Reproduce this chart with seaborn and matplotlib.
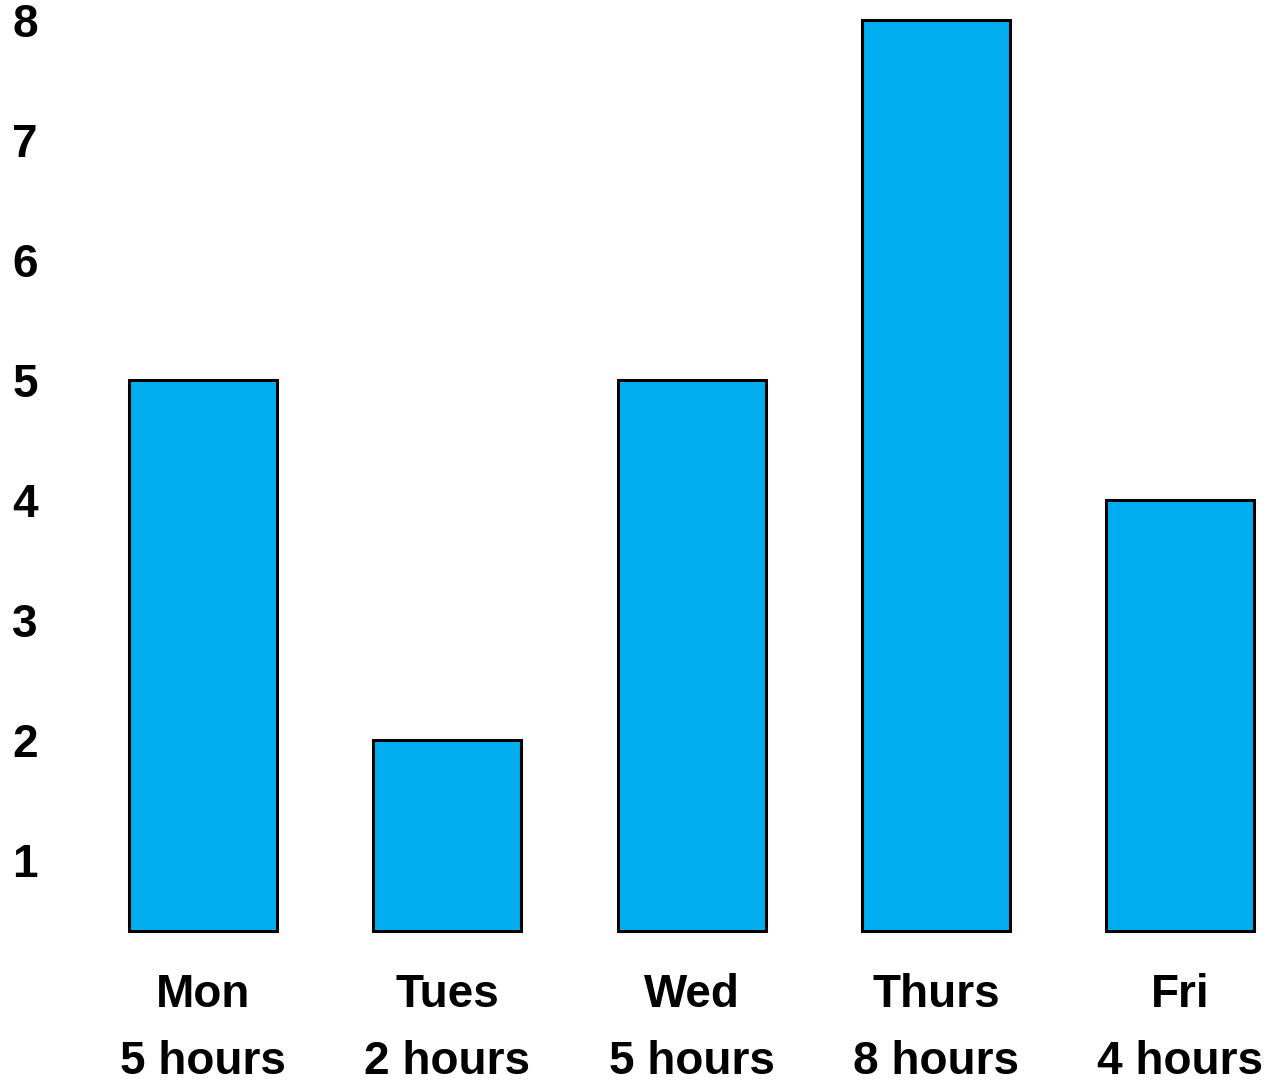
import matplotlib
matplotlib.use('Agg')
import matplotlib.pyplot as plt
import pandas as pd
import seaborn as sns

# data
days = ['Mon', 'Tues', 'Wed', 'Thurs', 'Fri']
hours = [5, 2, 5, 8, 4]
y_ticks = [1, 2, 3, 4, 5, 6, 7, 8]

df = pd.DataFrame({'day': days, 'hours': hours})
labels = [f'{d}\n{h} hours' for d, h in zip(days, hours)]

sns.set_style('white')
plt.rcParams['font.family'] = ['Liberation Sans', 'DejaVu Sans']
plt.rcParams['text.color'] = 'black'
plt.rcParams['xtick.color'] = 'black'
plt.rcParams['ytick.color'] = 'black'

fig = plt.figure(figsize=(12.79, 10.83), dpi=100)
ax = fig.add_axes([60 / 1279, 152 / 1083, 1219 / 1279, 931 / 1083])

sns.barplot(data=df, x='day', y='hours', color='#00AEEF', saturation=1,
            width=0.606, edgecolor='black', linewidth=2.2, ax=ax)

# bars in the original start a little above zero
base = 0.408
for p in ax.patches:
    h = p.get_height()
    p.set_y(base)
    p.set_height(h - base)
    p.set_clip_on(False)

ax.set_ylim(base, 8.167)
ax.set_xlim(-0.586, 4.405)
ax.set_yticks(y_ticks)
ax.set_xticks(range(len(days)))
ax.set_xticklabels(labels, linespacing=1.68)
ax.tick_params(axis='both', length=0, labelsize=33, labelcolor='black')
ax.tick_params(axis='y', pad=16)
ax.tick_params(axis='x', pad=30)
for t in ax.get_xticklabels() + ax.get_yticklabels():
    t.set_fontweight('bold')
ax.set_xlabel('')
ax.set_ylabel('')
sns.despine(left=True, bottom=True)

fig.savefig('out.png', dpi=100)
